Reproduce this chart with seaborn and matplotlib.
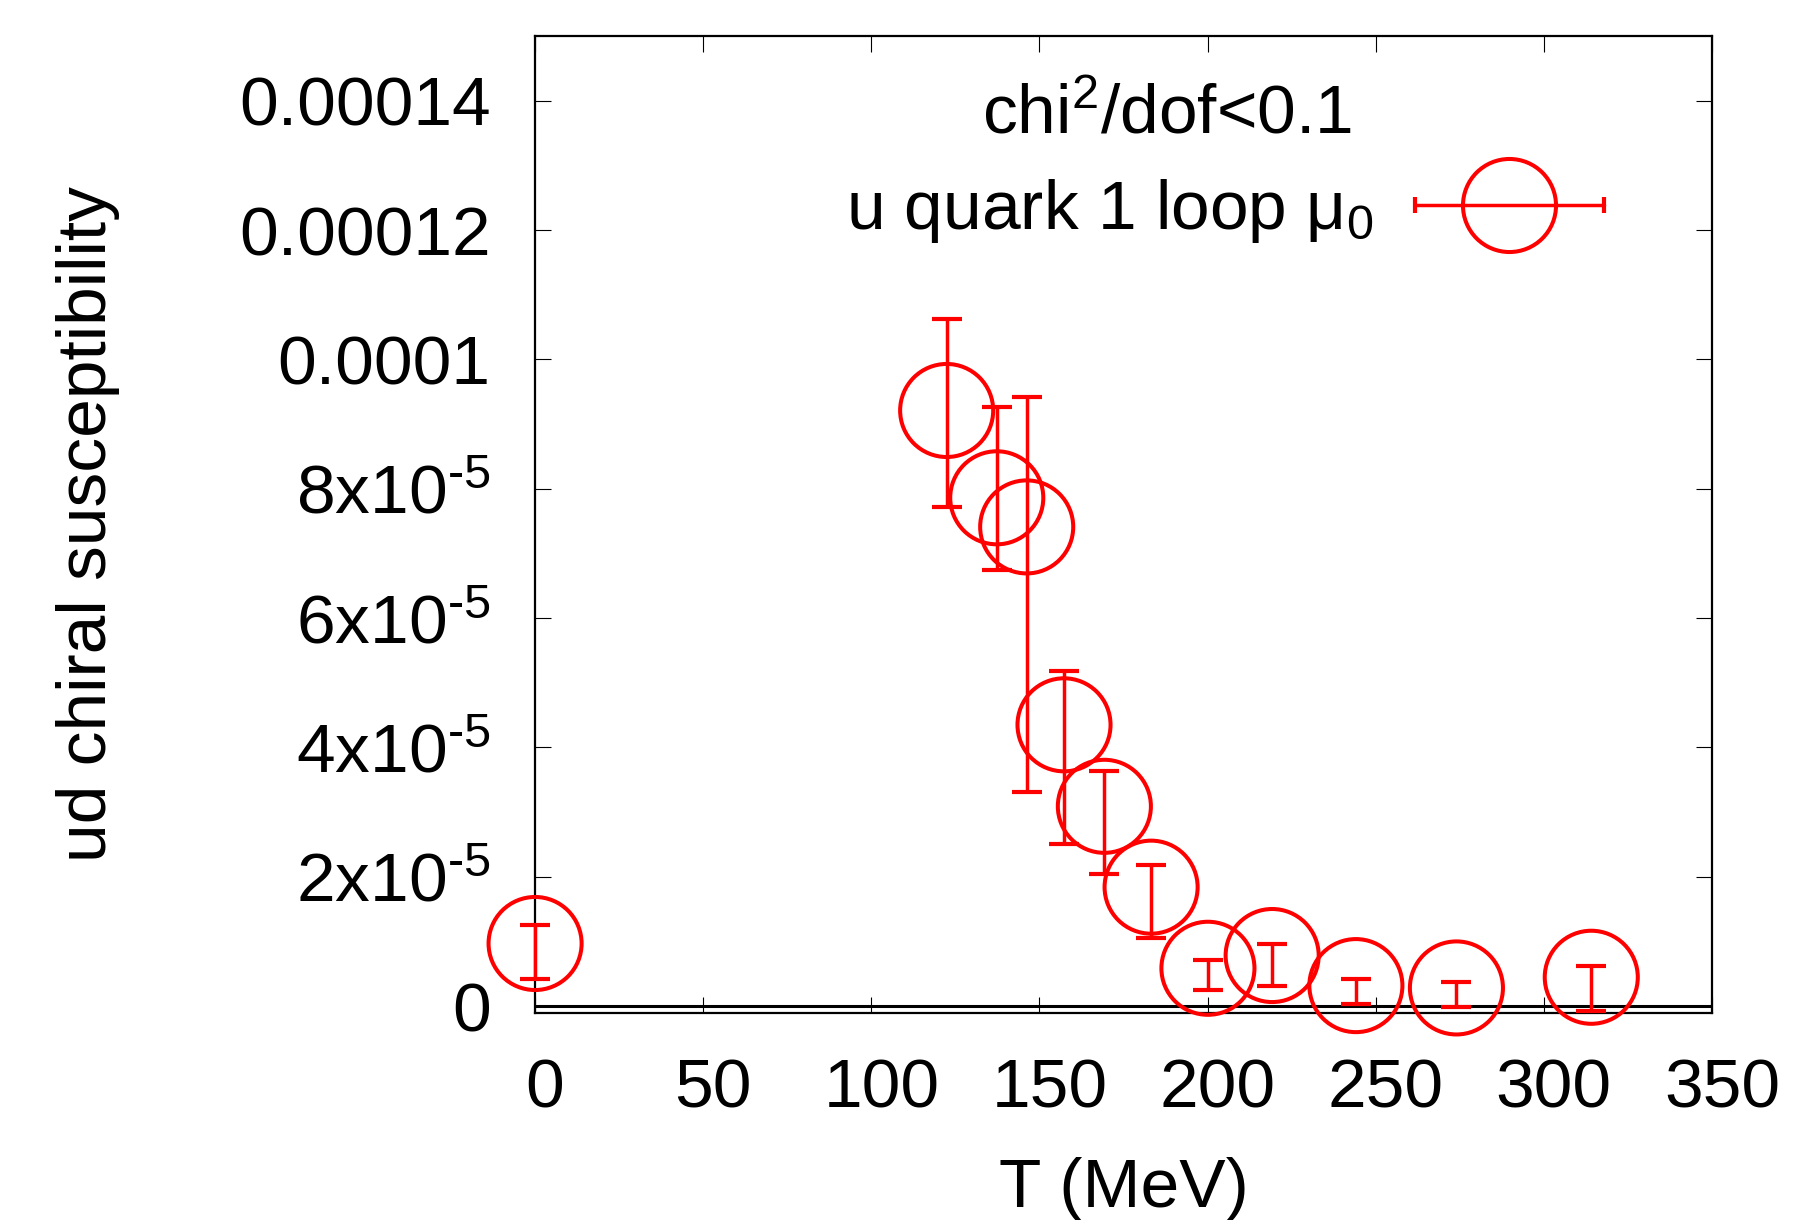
#!/usr/bin/env python3

import matplotlib
matplotlib.use("Agg")
from matplotlib import pyplot as plt
from matplotlib import transforms
from matplotlib.lines import Line2D
from matplotlib.legend_handler import HandlerLine2D
import pandas as pd
import seaborn as sns

# data
temperature = [0, 122.4, 137.3, 146.2, 157.3, 169.3, 183.2, 200.1, 219.2, 244.1, 274.0, 314.1]
chi = [0.969e-5, 9.21e-5, 7.86e-5, 7.41e-5, 4.35e-5, 3.09e-5, 1.84e-5, 0.586e-5, 0.783e-5, 0.318e-5, 0.282e-5, 0.447e-5]
chi_hi = [1.253e-5, 10.63e-5, 9.26e-5, 9.42e-5, 5.18e-5, 3.64e-5, 2.19e-5, 0.72e-5, 0.969e-5, 0.42e-5, 0.38e-5, 0.617e-5]
chi_lo = [0.426e-5, 7.72e-5, 6.74e-5, 3.31e-5, 2.50e-5, 2.05e-5, 1.057e-5, 0.256e-5, 0.318e-5, 0.03e-5, -0.02e-5, -0.07e-5]

x_ticks = [0, 50, 100, 150, 200, 250, 300, 350]
y_ticks = [0, 2e-5, 4e-5, 6e-5, 8e-5, 1e-4, 1.2e-4, 1.4e-4]
y_labels = ["0", r"2x10$^{\text{-}5}$", r"4x10$^{\text{-}5}$", r"6x10$^{\text{-}5}$",
            r"8x10$^{\text{-}5}$", "0.0001", "0.00012", "0.00014"]

series_label = "u quark 1 loop \u03bc$_0$"
key_title = "chi$^2$/dof<0.1"

df = pd.DataFrame({"T": temperature, "chi": chi, "hi": chi_hi, "lo": chi_lo})

sns.set_theme(style="ticks")
plt.rcParams["font.family"] = ["Liberation Sans", "DejaVu Sans"]
plt.rcParams["mathtext.fontset"] = "custom"
plt.rcParams["mathtext.rm"] = "Liberation Sans"
plt.rcParams["mathtext.it"] = "Liberation Sans:italic"
plt.rcParams["mathtext.default"] = "regular"
plt.rcParams["text.color"] = "black"
plt.rcParams["axes.labelcolor"] = "black"

fig = plt.figure(figsize=(18.12, 12.2), dpi=100)
ax = fig.add_axes([0.2953, 0.1697, 0.6495, 0.8008])

ax.errorbar(df["T"], df["chi"], yerr=[df["chi"] - df["lo"], df["hi"] - df["chi"]],
            fmt="none", ecolor="red", elinewidth=2.5, capsize=11, capthick=3.0,
            clip_on=False, zorder=4)
sns.scatterplot(data=df, x="T", y="chi", ax=ax, s=67 ** 2, marker="o",
                facecolor="none", edgecolor="red", linewidth=2.9,
                clip_on=False, zorder=5)

ax.axhline(0, color="black", linewidth=2.2, zorder=2)

ax.set_xlim(0, 350)
ax.set_ylim(-1.05e-6, 1.5e-4)
ax.set_xticks(x_ticks)
ax.set_yticks(y_ticks)
ax.set_yticklabels(y_labels)
ax.tick_params(direction="in", length=11.5, width=0.8, top=True, right=True,
               labelsize=50, pad=32, colors="black")
for s in ax.spines.values():
    s.set_linewidth(1.6)
    s.set_color("black")

offset = transforms.ScaledTranslation(0.10, 0, fig.dpi_scale_trans)
for lab in ax.get_xticklabels():
    lab.set_transform(lab.get_transform() + offset)

ax.set_xlabel("T (MeV)", fontsize=50)
ax.set_ylabel("ud chiral susceptibility", fontsize=50)
ax.xaxis.set_label_coords(0.5, -0.147)
ax.yaxis.set_label_coords(-0.3526, 0.5)

# key
bar_proxy = Line2D([], [], color="red", linewidth=2.5, marker="|",
                   markersize=11, markeredgewidth=3.0)
circ_proxy = Line2D([], [], linestyle="none", marker="o", markersize=67,
                    markerfacecolor="none", markeredgecolor="red", markeredgewidth=2.9)
ax.legend(handles=[(bar_proxy, circ_proxy)], labels=[series_label],
          handler_map={bar_proxy: HandlerLine2D(numpoints=2, marker_pad=0),
                       circ_proxy: HandlerLine2D(numpoints=1)},
          loc="center right", bbox_to_anchor=(0.908, 0.8204), frameon=False,
          markerfirst=False, borderpad=0, borderaxespad=0, handlelength=2.72,
          handletextpad=0.6, fontsize=50)
ax.text(0.537, 0.9185, key_title, transform=ax.transAxes, fontsize=50,
        ha="center", va="center")

fig.savefig("out.png", dpi=100)
